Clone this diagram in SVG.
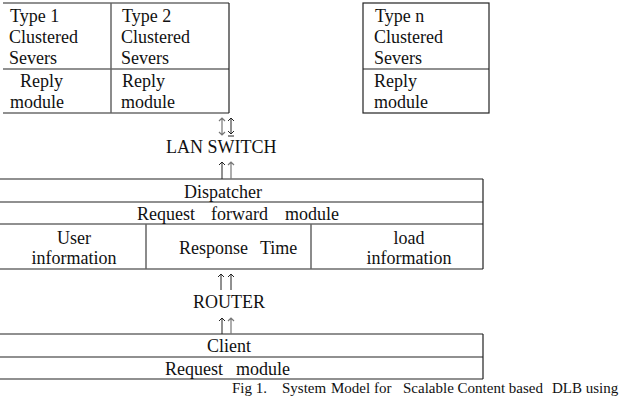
<svg xmlns="http://www.w3.org/2000/svg" width="624" height="400" viewBox="0 0 624 400">
<style>
  .t { font-family: "Liberation Serif", "Times New Roman", serif; font-size: 18px; fill: #111; }
  .cap { font-family: "Liberation Serif", "Times New Roman", serif; font-size: 15px; fill: #111; }
  .h { stroke: #222; stroke-width: 1.2; fill: none; }
  .v { stroke: #666; stroke-width: 1.5; fill: none; }
  .ar { stroke: #222; stroke-width: 1; fill: none; }
  .ar2 { stroke: #777; stroke-width: 1.2; fill: none; }
</style>
<rect width="624" height="400" fill="#fff"/>

<g id="type1">
  <path class="h" d="M3 3H111M3 69H111M3 113H111"/>
  <text class="t" x="10" y="22">Type 1</text>
  <text class="t" x="9" y="43">Clustered</text>
  <text class="t" x="9" y="64">Severs</text>
  <text class="t" x="20" y="87">Reply</text>
  <text class="t" x="10" y="108">module</text>
</g>
<g id="type2">
  <path class="h" d="M111 3H229M111 69H229M111 113H229"/>
  <path class="v" d="M111 3V113"/>
  <path class="h" d="M229 3V113"/>
  <text class="t" x="122" y="22">Type 2</text>
  <text class="t" x="121" y="43">Clustered</text>
  <text class="t" x="121" y="64">Severs</text>
  <text class="t" x="122" y="87">Reply</text>
  <text class="t" x="121" y="108">module</text>
</g>
<g id="typen">
  <rect class="h" x="363" y="3" width="126" height="110"/>
  <path class="h" d="M363 69H489"/>
  <text class="t" x="375" y="22">Type n</text>
  <text class="t" x="374" y="43">Clustered</text>
  <text class="t" x="374" y="64">Severs</text>
  <text class="t" x="374" y="87">Reply</text>
  <text class="t" x="374" y="108">module</text>
</g>

<g id="lan-switch">
  <text class="t" x="166" y="153">LAN SWITCH</text>
</g>

<g id="dispatcher">
  <path class="h" d="M0 179H483M0 202H483M0 224H483M0 269H483M483 179V269"/>
  <path class="v" d="M146 224V269M311 224V269"/>
  <text class="t" x="184" y="198">Dispatcher</text>
  <text class="t" y="220"><tspan x="137">Request</tspan><tspan x="211">forward</tspan><tspan x="285">module</tspan></text>
  <text class="t" x="74" y="244" text-anchor="middle">User</text>
  <text class="t" x="74" y="264" text-anchor="middle">information</text>
  <text class="t" y="254"><tspan x="179">Response</tspan><tspan x="260">Time</tspan></text>
  <text class="t" x="409" y="244" text-anchor="middle">load</text>
  <text class="t" x="409" y="264" text-anchor="middle">information</text>
</g>

<g id="router">
  <text class="t" x="193" y="308">ROUTER</text>
</g>

<g id="client">
  <path class="h" d="M0 334H483M0 357H483M0 379H483M483 334V379"/>
  <text class="t" x="207" y="352">Client</text>
  <text class="t" y="375"><tspan x="165">Request</tspan><tspan x="236">module</tspan></text>
</g>

<g id="caption">
  <text class="cap" y="393"><tspan x="232">Fig 1.</tspan><tspan x="282">System</tspan><tspan x="331">Model for</tspan><tspan x="403">Scalable Content based</tspan><tspan x="552">DLB using</tspan></text>
</g>

<g id="connectors">
  <path class="ar2" d="M222 118V135M219 121L222 118L225 121M219 132L222 135L225 132"/>
  <path class="ar" d="M231 118V134M228 121L231 118L234 121M228 131L231 134L234 131M228 136H234"/>
  <path class="ar" d="M222 162V179M219 165L222 162L225 165"/>
  <path class="ar2" d="M231 162V179M228 165L231 162L234 165"/>
  <path class="ar" d="M221 274V290M218 277L221 274L224 277"/>
  <path class="ar" d="M231 274V290M228 277L231 274L234 277"/>
  <path class="ar" d="M222 318V334M219 321L222 318L225 321"/>
  <path class="ar2" d="M231 318V334M228 321L231 318L234 321"/>
</g>
</svg>
